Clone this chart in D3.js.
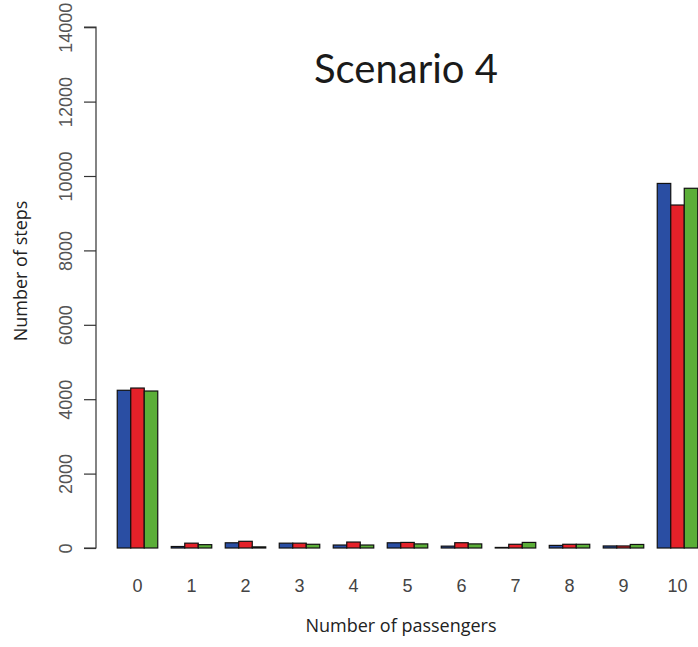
<!DOCTYPE html>
<html>
<head>
<meta charset="utf-8">
<script src="https://cdn.jsdelivr.net/npm/d3@7"></script>
<style>
  html, body { margin: 0; padding: 0; background: #fff; }
  svg { display: block; }
</style>
</head>
<body>
<svg id="chart" width="698" height="647"></svg>
<script>
// Passenger counts along the x axis
const categories = ["0", "1", "2", "3", "4", "5", "6", "7", "8", "9", "10"];
// Three runs shown side by side for each passenger count
const seriesNames = ["run1", "run2", "run3"];
const run1 = [4240, 40, 140, 130, 80, 140, 50, 15, 70, 55, 9800];
const run2 = [4300, 130, 180, 130, 160, 150, 142, 100, 100, 55, 9220];
const run3 = [4220, 90, 30, 100, 80, 110, 110, 150, 100, 95, 9670];
const seriesColors = ["#2a4ea3", "#e52129", "#5bae38"];
const yTicks = [0, 2000, 4000, 6000, 8000, 10000, 12000, 14000];

const titleText = "Scenario 4";
const xTitle = "Number of passengers";
const yTitle = "Number of steps";

const seriesValues = [run1, run2, run3];
const svg = d3.select("#chart");

const x = d3.scaleBand()
  .domain(categories)
  .range([110.5, 704.5])
  .paddingInner(0.25)
  .paddingOuter(0.125);

const xInner = d3.scaleBand()
  .domain(seriesNames)
  .range([0, x.bandwidth()]);

const y = d3.scaleLinear()
  .domain([0, 14000])
  .range([548, 27.2]);

// Bars
const groups = svg.append("g")
  .selectAll("g")
  .data(categories)
  .join("g")
  .attr("transform", d => `translate(${x(d)},0)`);

groups.selectAll("rect")
  .data((d, i) => seriesNames.map((s, j) => ({ s, v: seriesValues[j][i], c: seriesColors[j] })))
  .join("rect")
  .attr("x", d => xInner(d.s))
  .attr("width", xInner.bandwidth())
  .attr("y", d => y(d.v))
  .attr("height", d => y(0) - y(d.v))
  .attr("fill", d => d.c)
  .attr("stroke", "#111")
  .attr("stroke-width", 1.2);

// Y axis (R style: ticks outward, labels rotated)
const yAxis = d3.axisLeft(y)
  .tickValues(yTicks)
  .tickSize(12)
  .tickPadding(6)
  .tickFormat(d3.format("d"));

const yg = svg.append("g")
  .attr("transform", "translate(96,0)")
  .call(yAxis);

yg.select(".domain")
  .attr("d", `M-12,${y(0)}H0V${y(14000)}H-12`)
  .attr("stroke", "#333")
  .attr("stroke-width", 1.2);
yg.selectAll(".tick line").attr("stroke", "#333").attr("stroke-width", 1.2);
yg.selectAll(".tick text")
  .attr("font-family", "Liberation Sans, Arial, sans-serif")
  .attr("font-size", 18)
  .attr("fill", "#555")
  .attr("text-anchor", "middle")
  .attr("dy", null)
  .attr("x", null)
  .attr("transform", "translate(-24,0) rotate(-90)")
  .attr("y", 0);

// X category labels
svg.append("g")
  .selectAll("text")
  .data(categories)
  .join("text")
  .attr("x", d => x(d) + x.bandwidth() / 2)
  .attr("y", 592)
  .attr("text-anchor", "middle")
  .attr("font-family", "Liberation Sans, Arial, sans-serif")
  .attr("font-size", 18)
  .attr("fill", "#444")
  .text(d => d);

// Title
svg.append("text")
  .attr("x", 406)
  .attr("y", 83)
  .attr("text-anchor", "middle")
  .attr("font-family", "Lato, sans-serif")
  .attr("font-size", 40)
  .attr("fill", "#1a1a1a")
  .text(titleText);

// Axis titles
svg.append("text")
  .attr("x", 401)
  .attr("y", 632)
  .attr("text-anchor", "middle")
  .attr("font-family", "Open Sans, sans-serif")
  .attr("font-size", 18)
  .attr("fill", "#222")
  .text(xTitle);

svg.append("text")
  .attr("transform", "translate(27,271) rotate(-90)")
  .attr("text-anchor", "middle")
  .attr("font-family", "Open Sans, sans-serif")
  .attr("font-size", 18)
  .attr("fill", "#222")
  .text(yTitle);
</script>
</body>
</html>
